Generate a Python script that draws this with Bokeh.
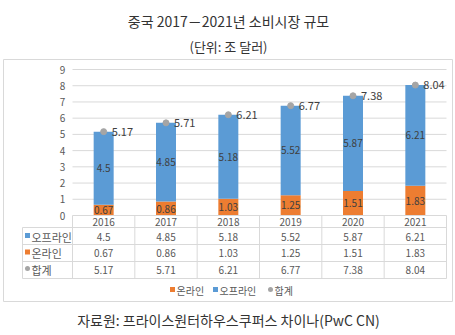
from bokeh.plotting import figure
from bokeh.models import Range1d
from bokeh.core.properties import value
from bokeh.embed import file_html
from bokeh.resources import INLINE

# ---- data ----
years = ["2016", "2017", "2018", "2019", "2020", "2021"]
offline = [4.5, 4.85, 5.18, 5.52, 5.87, 6.21]
online = [0.67, 0.86, 1.03, 1.25, 1.51, 1.83]
total = [5.17, 5.71, 6.21, 6.77, 7.38, 8.04]
y_ticks = [0, 1, 2, 3, 4, 5, 6, 7, 8, 9]
title_text = "중국 2017－2021년 소비시장 규모"
subtitle_text = "(단위: 조 달러)"
source_text = "자료원: 프라이스원터하우스쿠퍼스 차이나(PwC CN)"
name_offline = "오프라인"
name_online = "온라인"
name_total = "합계"

# ---- layout constants (pixels) ----
W, H = 455, 335
X0, X1 = 72, 446          # category area
Y0, Y9 = 215, 69          # pixel of value 0 and 9
n = len(years)
ux = (X1 - X0) / n
uy = (Y0 - Y9) / 9.0

def dx(px):
    return (px - X0) / ux

def dy(py):
    return (Y0 - py) / uy

FONT = value("Noto Sans CJK KR")
BLUE = "#5B9BD5"
ORANGE = "#ED7D31"
GRAY = "#A5A5A5"
LINE = "#D9D9D9"
TXT = "#595959"

p = figure(width=W, height=H, output_backend="svg", toolbar_location=None,
           x_range=Range1d(dx(0), dx(W)), y_range=Range1d(dy(H), dy(0)),
           min_border=0, outline_line_color=None)
p.axis.visible = False
p.grid.visible = False
p.background_fill_color = "white"
p.border_fill_color = "white"

xc = [i + 0.5 for i in range(n)]
stack_top = [a + b for a, b in zip(online, offline)]

# frame
fx = [dx(3), dx(452), dx(452), dx(3), dx(3)]
fy = [dy(59), dy(59), dy(301), dy(301), dy(59)]
p.line(fx, fy, line_color=LINE, line_width=1)

# titles
p.text(x=[dx(228)], y=[dy(20)], text=[title_text], text_font=FONT,
       text_font_size="14px", text_color="#333333", text_align="center",
       text_baseline="middle")
p.text(x=[dx(228)], y=[dy(46)], text=[subtitle_text], text_font=FONT,
       text_font_size="13px", text_color="#333333", text_align="center",
       text_baseline="middle")
p.text(x=[dx(228)], y=[dy(319)], text=[source_text], text_font=FONT,
       text_font_size="14px", text_color="#333333", text_align="center",
       text_baseline="middle")

# gridlines
grid_vals = [t for t in y_ticks if t > 0]
p.segment(x0=[dx(X0)] * len(grid_vals), x1=[dx(X1)] * len(grid_vals),
          y0=grid_vals, y1=grid_vals, line_color=LINE, line_width=1)

# y tick labels
p.text(x=[dx(62)] * len(y_ticks), y=y_ticks, text=[str(t) for t in y_ticks],
       text_font=FONT, text_font_size="10px", text_color=TXT,
       text_align="center", text_baseline="middle")

# bars
bw = 20 / ux
p.vbar(x=xc, bottom=0, top=online, width=bw, fill_color=ORANGE, line_color=None)
p.vbar(x=xc, bottom=online, top=stack_top, width=bw, fill_color=BLUE, line_color=None)

# bar labels
p.text(x=xc, y=[v / 2 for v in online], text=[f"{v:g}" for v in online],
       text_font=FONT, text_font_size="10px", text_color="#404040",
       text_align="center", text_baseline="middle")
p.text(x=xc, y=[a + b / 2 for a, b in zip(online, offline)],
       text=[f"{v:g}" for v in offline], text_font=FONT, text_font_size="10px",
       text_color="#404040", text_align="center", text_baseline="middle")

# total markers + labels
p.scatter(x=xc, y=total, size=6, fill_color=GRAY, line_color=GRAY)
p.text(x=[x + 8 / ux for x in xc], y=total, text=[f"{v:.2f}" for v in total],
       text_font=FONT, text_font_size="11px", text_color="#404040",
       text_align="left", text_baseline="middle")

# data table lines
TL = 22
row_lines = [227, 244, 261, 278]
p.segment(x0=[dx(X0)], x1=[dx(X1)], y0=[0], y1=[0], line_color=LINE)
p.segment(x0=[dx(TL)] * len(row_lines), x1=[dx(X1)] * len(row_lines),
          y0=[dy(r) for r in row_lines], y1=[dy(r) for r in row_lines],
          line_color=LINE)
vx = [i for i in range(n + 1)]
p.segment(x0=vx, x1=vx, y0=[0] * len(vx), y1=[dy(278)] * len(vx), line_color=LINE)
p.segment(x0=[dx(TL)], x1=[dx(TL)], y0=[dy(227)], y1=[dy(278)], line_color=LINE)

# year row
p.text(x=xc, y=[dy(221)] * n, text=years, text_font=FONT, text_font_size="10px",
       text_color=TXT, text_align="center", text_baseline="middle")

# table rows
rows = [(offline, 236, name_offline, BLUE, "square"),
        (online, 252.5, name_online, ORANGE, "square"),
        (total, 269, name_total, GRAY, "circle")]
for vals, ry, name, col, mk in rows:
    p.text(x=xc, y=[dy(ry)] * n, text=[f"{v:g}" for v in vals], text_font=FONT,
           text_font_size="10px", text_color=TXT, text_align="center",
           text_baseline="middle")
    p.scatter(x=[dx(27)], y=[dy(ry - 1)], marker=mk, size=5, fill_color=col,
              line_color=None)
    p.text(x=[dx(31)], y=[dy(ry)], text=[name], text_font=FONT,
           text_font_size="11px", text_color=TXT, text_align="left",
           text_baseline="middle")

# legend
leg = [(172, name_online, ORANGE, "square"),
       (215, name_offline, BLUE, "square"),
       (270, name_total, GRAY, "circle")]
for lx, name, col, mk in leg:
    p.scatter(x=[dx(lx)], y=[dy(289)], marker=mk, size=5, fill_color=col,
              line_color=None)
    p.text(x=[dx(lx + 4)], y=[dy(290)], text=[name], text_font=FONT,
           text_font_size="10px", text_color=TXT, text_align="left",
           text_baseline="middle")

open("out.html", "w").write(file_html(p, INLINE))
